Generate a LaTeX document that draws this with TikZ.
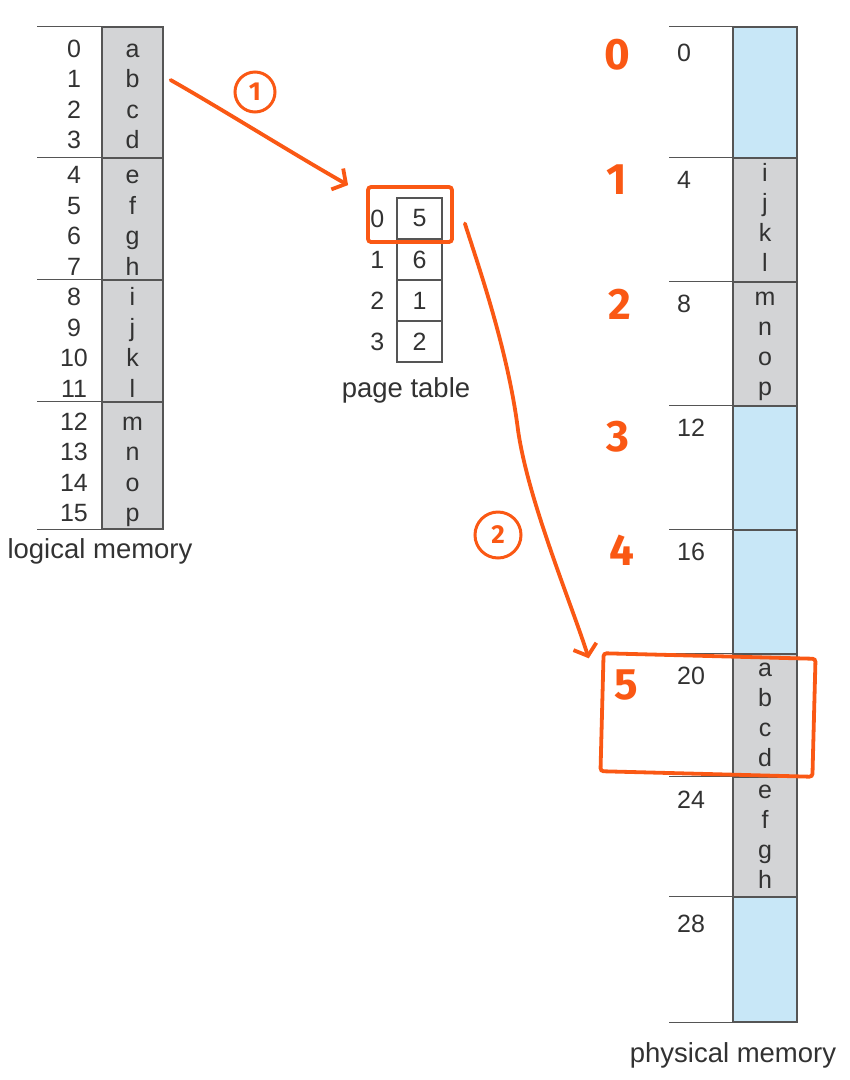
\documentclass[tikz,border=0pt]{standalone}
\usepackage{fontspec}
\setmainfont{Liberation Sans}
\newfontfamily\handfont{Fira Sans}
\usetikzlibrary{arrows.meta,calc,positioning}
\definecolor{memGray}{RGB}{211,212,214}
\definecolor{memBlue}{RGB}{200,231,247}
\definecolor{memLine}{RGB}{85,85,85}
\definecolor{memText}{RGB}{50,50,50}
\definecolor{handOrange}{RGB}{250,88,20}
\tikzset{
  handBox/.style={draw=handOrange, line width=3.8pt, rounded corners=3pt, inner sep=0pt},
  handArrow/.style={draw=handOrange, line width=3.8pt, line cap=round, line join=round, -{Straight Barb[length=10pt, width=24pt]}},
  handDigit/.style={text=handOrange, inner sep=0pt, font=\handfont\bfseries\fontsize{44}{44}\selectfont},
  handCircle/.style={circle, draw=handOrange, line width=3pt, text=handOrange, inner sep=0pt, font=\handfont\bfseries\fontsize{26}{26}\selectfont},
  memRule/.style={draw=memLine, line width=1.2pt}
}
\begin{document}
\begin{tikzpicture}[
    x=1pt, y=-1pt,
    memPage/.style={draw=memLine, line width=1.2pt, fill=memGray, minimum width=61pt, inner sep=0pt, align=center, text=memText, font=\fontsize{25}{30.5}\selectfont, text height=112pt, text depth=0pt},
    memNum/.style={inner sep=0pt, align=center, text=memText, font=\fontsize{25}{30.5}\selectfont, text height=112pt, text depth=0pt},
    frameBox/.style={draw=memLine, line width=1.2pt, minimum width=64pt, inner sep=0pt, align=center, text=memText, font=\fontsize{25}{30}\selectfont, text height=108pt, text depth=6pt},
    frameAddr/.style={anchor=base west, inner sep=0pt, text=memText, font=\fontsize{25}{30}\selectfont},
    ptCell/.style={draw=memLine, line width=1.2pt, minimum width=45pt, minimum height=41pt, inner sep=0pt, text=memText, font=\fontsize{25}{30}\selectfont},
    ptIdx/.style={inner sep=0pt, text=memText, font=\fontsize{25}{30}\selectfont},
    memLabel/.style={anchor=base, inner sep=0pt, text=memText, font=\fontsize{27.5}{33}\selectfont}
  ]
  \useasboundingbox (0,0) rectangle (850,1080);

  % logical memory
  \node[memPage, minimum height=131pt] (lm0) at (132.5,92.5) {a\\b\\c\\d};
  \node[memPage, minimum height=122pt] (lm1) at (132.5,219) {e\\f\\g\\h};
  \node[memPage, minimum height=122pt] (lm2) at (132.5,341) {i\\j\\k\\l};
  \node[memPage, minimum height=127pt] (lm3) at (132.5,465.5) {m\\n\\o\\p};
  \node[memNum] (ln0) at (74,92.5) {0\\1\\2\\3};
  \node[memNum] (ln1) at (74,219) {4\\5\\6\\7};
  \node[memNum] (ln2) at (74,341) {8\\9\\10\\11};
  \node[memNum] (ln3) at (74,465.5) {12\\13\\14\\15};
  \draw[memRule] (lm0.north west) -- ++(-64,0);
  \draw[memRule] (lm1.north west) -- ++(-64,0);
  \draw[memRule] (lm2.north west) -- ++(-64,0);
  \draw[memRule] (lm3.north west) -- ++(-64,0);
  \draw[memRule] (lm3.south west) -- ++(-64,0);
  \node[memLabel] (lmLabel) at (100,558) {logical memory};

  % page table
  \node[ptCell] (pt0) at (419.5,218.5) {5};
  \node[ptCell] (pt1) at (419.5,259.5) {6};
  \node[ptCell] (pt2) at (419.5,300.5) {1};
  \node[ptCell] (pt3) at (419.5,341.5) {2};
  \node[ptIdx, left=12pt of pt0] (pi0) {0};
  \node[ptIdx, left=12pt of pt1] (pi1) {1};
  \node[ptIdx, left=12pt of pt2] (pi2) {2};
  \node[ptIdx, left=12pt of pt3] (pi3) {3};
  \node[memLabel] (ptLabel) at (406,397) {page table};

  % physical memory
  \node[frameBox, fill=memBlue, minimum height=131pt] (f0) at (765,92.5) {};
  \node[frameBox, fill=memGray, minimum height=124pt] (f1) at (765,220) {i\\j\\k\\l};
  \node[frameBox, fill=memGray, minimum height=124pt] (f2) at (765,344) {m\\n\\o\\p};
  \node[frameBox, fill=memBlue, minimum height=124pt] (f3) at (765,468) {};
  \node[frameBox, fill=memBlue, minimum height=124pt] (f4) at (765,592) {};
  \node[frameBox, fill=memGray, minimum height=123pt] (f5) at (765,715.5) {a\\b\\c\\d};
  \node[frameBox, fill=memGray, minimum height=120pt] (f6) at (765,837) {e\\f\\g\\h};
  \node[frameBox, fill=memBlue, minimum height=125pt] (f7) at (765,959.5) {};
  \draw[memRule] (f0.north west) -- ++(-63,0);
  \draw[memRule] (f1.north west) -- ++(-63,0);
  \draw[memRule] (f2.north west) -- ++(-63,0);
  \draw[memRule] (f3.north west) -- ++(-63,0);
  \draw[memRule] (f4.north west) -- ++(-63,0);
  \draw[memRule] (f5.north west) -- ++(-63,0);
  \draw[memRule] (f6.north west) -- ++(-63,0);
  \draw[memRule] (f7.north west) -- ++(-63,0);
  \draw[memRule] (f7.south west) -- ++(-63,0);
  \node[frameAddr] (fa0) at (677,61) {0};
  \node[frameAddr] (fa1) at (677,188) {4};
  \node[frameAddr] (fa2) at (677,312) {8};
  \node[frameAddr] (fa3) at (677,436) {12};
  \node[frameAddr] (fa4) at (677,560) {16};
  \node[frameAddr] (fa5) at (677,684) {20};
  \node[frameAddr] (fa6) at (677,808) {24};
  \node[frameAddr] (fa7) at (677,932) {28};
  \node[memLabel] (pmLabel) at (733,1062) {physical memory};

  % hand notes
  \node[handBox, minimum width=84pt, minimum height=55pt] (ptSel) at (410,214.5) {};
  \node[handBox, minimum width=212pt, minimum height=118pt, rotate=-1.5] (frameSel) at (708,715) {};
  \node[handCircle, minimum size=40pt] (stepOne) at (255,92) {1};
  \node[handCircle, minimum size=46pt] (stepTwo) at (498,535) {2};
  \node[handDigit] (fn0) at (617,55) {0};
  \node[handDigit] (fn1) at (617,180) {1};
  \node[handDigit] (fn2) at (620,304) {2};
  \node[handDigit] (fn3) at (618,437) {3};
  \node[handDigit] (fn4) at (622,550) {4};
  \node[handDigit] (fn5) at (626,685) {5};
  \draw[handArrow] ($(lm0.east)+(7,-12.5)$) .. controls (220,108) and (295,155) .. ($(ptSel.north west)+(-18,0)$);
  \draw[handArrow] ($(ptSel.east)+(11,9)$) .. controls (478,265) and (508,350) .. (518,430) .. controls (528,500) and (570,600) .. ($(frameSel.north west)+(-13,7)$);
\end{tikzpicture}
\end{document}
